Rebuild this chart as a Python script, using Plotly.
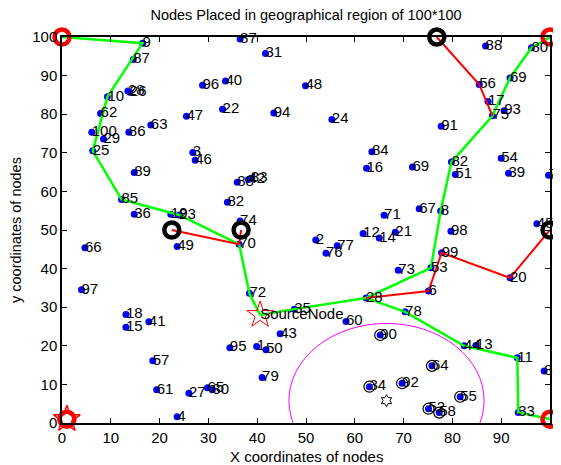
import plotly.graph_objects as go

# ---- node data (label, x, y) ----
node_labels = ["9", "87", "87", "31", "96", "40", "48", "22", "94", "24", "84", "10", "28", "26",
               "62", "47", "100", "29", "86", "63", "25", "3", "46", "89", "85", "36", "19", "23",
               "49", "66", "97", "18", "15", "41", "57", "61", "27", "4", "65", "30", "88", "42",
               "83", "82", "74", "70", "2", "76", "77", "12", "16", "14", "21", "71", "69", "67",
               "8", "98", "82", "51", "54", "39", "7", "45", "99", "53", "73", "20", "6", "28",
               "78", "44", "13", "11", "81", "33", "90", "64", "92", "34", "55", "52", "58", "60",
               "35", "72", "43", "95", "1", "50", "79", "88", "80", "69", "56", "17", "93", "75", "91"]
node_x = [16.5, 14.6, 36.5, 41.7, 28.8, 33.5, 49.9, 32.9, 43.4, 55.3, 63.5, 9.3, 13.5, 13.9,
          7.9, 25.5, 6.1, 8.5, 13.7, 18.2, 6.3, 26.8, 27.3, 14.8, 12.2, 14.8, 22.3, 24.0,
          23.6, 4.7, 4.0, 13.1, 13.1, 17.8, 18.6, 19.4, 26.0, 23.6, 29.8, 30.8, 35.9, 38.2,
          38.7, 33.9, 36.5, 36.3, 52.0, 54.1, 56.4, 61.7, 62.4, 65.0, 68.3, 66.0, 71.8, 73.2,
          77.6, 79.7, 79.8, 80.6, 90.0, 91.5, 99.7, 97.3, 77.8, 75.6, 68.9, 91.8, 75.1, 62.3,
          70.3, 82.4, 84.8, 93.3, 98.8, 93.5, 65.2, 75.8, 69.7, 63.0, 81.6, 75.1, 77.3, 58.2,
          47.6, 38.4, 44.7, 34.4, 39.9, 41.8, 41.0, 86.8, 96.2, 91.8, 85.5, 87.3, 90.6, 88.2, 77.7]
node_y = [98.4, 94.2, 99.5, 95.7, 87.5, 88.6, 87.4, 81.3, 80.3, 78.6, 70.3, 84.5, 86.0, 85.7,
          80.2, 79.5, 75.3, 73.6, 75.3, 77.2, 70.5, 70.1, 68.1, 64.9, 57.9, 54.1, 54.1, 53.9,
          45.7, 45.4, 34.5, 28.1, 24.8, 26.2, 16.1, 8.6, 7.7, 1.6, 9.1, 8.6, 62.4, 63.1,
          63.4, 57.2, 52.3, 46.3, 47.4, 44.0, 45.9, 49.1, 66.0, 47.9, 49.4, 53.8, 66.3, 55.5,
          54.9, 49.7, 67.6, 64.4, 68.6, 64.7, 64.2, 51.6, 44.1, 40.2, 39.6, 37.6, 34.2, 32.4,
          28.8, 20.0, 20.1, 16.9, 13.5, 2.7, 22.8, 14.8, 10.3, 9.4, 6.8, 3.7, 2.7, 26.3,
          29.5, 33.6, 23.1, 19.5, 19.8, 19.0, 11.8, 97.7, 97.2, 89.4, 87.7, 83.3, 80.9, 79.6, 76.9]

# nodes inside the sensing region (ringed)
ring_x = [65.2, 75.8, 69.7, 63.0, 81.6, 75.1, 77.3]
ring_y = [22.8, 14.8, 10.3, 9.4, 6.8, 3.7, 2.7]

# corner sinks (red rings)
corner_x = [0, 100, 1, 100]
corner_y = [100, 100, 1, 1]

# cluster heads (black rings)
head_x = [22.5, 36.7, 76.8, 100]
head_y = [50, 50, 100, 50]

# source node
source_x, source_y = [40.6], [28.0]
star_x, star_y = [1], [1]

# event centre and region radius
event_x, event_y = [66.5], [5.8]
event_r = 20

# green routes
g1_x = [0, 16.5, 9.3, 6.3, 12.2, 24.0, 36.3, 38.4, 40.6]
g1_y = [100, 98.4, 84.5, 70.5, 57.9, 53.9, 46.3, 33.6, 28.0]
g2_x = [40.6, 47.6, 62.3, 75.6, 77.6, 79.8, 88.2, 91.8, 96.2, 100]
g2_y = [28.0, 29.5, 32.4, 40.2, 54.9, 67.6, 79.6, 89.4, 97.2, 100]
g3_x = [62.3, 70.3, 82.4, 93.3, 93.5, 100]
g3_y = [32.4, 28.8, 20.0, 16.9, 2.7, 1]

# red routes
r1_x = [22.5, 36.3]
r1_y = [50, 46.3]
r2_x = [36.7, 36.3]
r2_y = [50, 46.3]
r3_x = [76.8, 85.5, 88.2]
r3_y = [100, 87.7, 79.6]
r4_x = [100, 91.8, 77.8, 75.1, 62.3]
r4_y = [50, 37.6, 44.1, 34.2, 32.4]

ticks = [0, 10, 20, 30, 40, 50, 60, 70, 80, 90, 100]

FONT = "Arial, Liberation Sans, sans-serif"

fig = go.Figure()

fig.add_shape(type="circle", xref="x", yref="y",
              x0=event_x[0] - event_r, x1=event_x[0] + event_r,
              y0=event_y[0] - event_r, y1=event_y[0] + event_r,
              line=dict(color="#FF00FF", width=1), layer="below")

fig.add_trace(go.Scatter(x=node_x, y=node_y, mode="markers",
                         marker=dict(color="#0000FF", size=7), cliponaxis=False))
fig.add_trace(go.Scatter(x=ring_x, y=ring_y, mode="markers",
                         marker=dict(symbol="circle-open", color="black", size=11,
                                     line=dict(width=1.2)), cliponaxis=False))

for xs, ys in [(g1_x, g1_y), (g2_x, g2_y), (g3_x, g3_y)]:
    fig.add_trace(go.Scatter(x=xs, y=ys, mode="lines",
                             line=dict(color="#00FF00", width=2.5), cliponaxis=False))
for xs, ys in [(r1_x, r1_y), (r2_x, r2_y), (r3_x, r3_y), (r4_x, r4_y)]:
    fig.add_trace(go.Scatter(x=xs, y=ys, mode="lines",
                             line=dict(color="#FF0000", width=2), cliponaxis=False))

fig.add_trace(go.Scatter(x=corner_x, y=corner_y, mode="markers",
                         marker=dict(symbol="circle-open", color="#FF0000", size=15,
                                     line=dict(width=4.5)), cliponaxis=False))
fig.add_trace(go.Scatter(x=star_x, y=star_y, mode="markers",
                         marker=dict(symbol="star-open", color="#FF0000", size=20,
                                     line=dict(width=1.5)), cliponaxis=False))
fig.add_trace(go.Scatter(x=head_x, y=head_y, mode="markers",
                         marker=dict(symbol="circle-open", color="black", size=15,
                                     line=dict(width=4.5)), cliponaxis=False))
fig.add_trace(go.Scatter(x=source_x, y=source_y, mode="markers",
                         marker=dict(symbol="star-open", color="#FF0000", size=20,
                                     line=dict(width=1)), cliponaxis=False))
fig.add_trace(go.Scatter(x=event_x, y=event_y, mode="markers",
                         marker=dict(symbol="hexagram-open", color="black", size=9,
                                     line=dict(width=1)), cliponaxis=False))

fig.add_trace(go.Scatter(x=node_x, y=node_y, mode="text", text=node_labels,
                         textposition="middle right",
                         textfont=dict(family=FONT, size=15, color="black"),
                         cliponaxis=False))
fig.add_trace(go.Scatter(x=source_x, y=source_y, mode="text", text=["SourceNode"],
                         textposition="middle right",
                         textfont=dict(family=FONT, size=15, color="black"),
                         cliponaxis=False))

axis_common = dict(range=[0, 100], tickvals=ticks, ticks="inside", ticklen=5,
                   tickwidth=1, tickcolor="black", showline=True, linecolor="black",
                   linewidth=1.5, mirror="ticks", showgrid=False, zeroline=False,
                   automargin=False,
                   tickfont=dict(family=FONT, size=15, color="black"), fixedrange=True)

# the page body adds an 8px offset, so the figure is sized to fit inside it
fig.update_layout(
    width=553, height=457,
    margin=dict(l=54, r=11, t=29, b=42, autoexpand=False),
    paper_bgcolor="white", plot_bgcolor="white",
    showlegend=False,
    xaxis=axis_common,
    yaxis=axis_common,
    title=dict(text="Nodes Placed in geographical region of 100*100",
               x=0.5, xref="paper", y=1 - 7 / 457, yanchor="middle",
               font=dict(family=FONT, size=14.5, color="black")),
    annotations=[
        dict(text="X coordinates of nodes", xref="paper", yref="paper",
             x=0.5, y=-33 / 386, yanchor="middle", showarrow=False,
             font=dict(family=FONT, size=15, color="black")),
        dict(text="y coordinates of nodes", xref="paper", yref="paper",
             x=-46 / 488, y=0.5, xanchor="center", yanchor="middle", textangle=-90,
             showarrow=False, font=dict(family=FONT, size=14.5, color="black")),
    ],
)

fig.write_html("out.html")
